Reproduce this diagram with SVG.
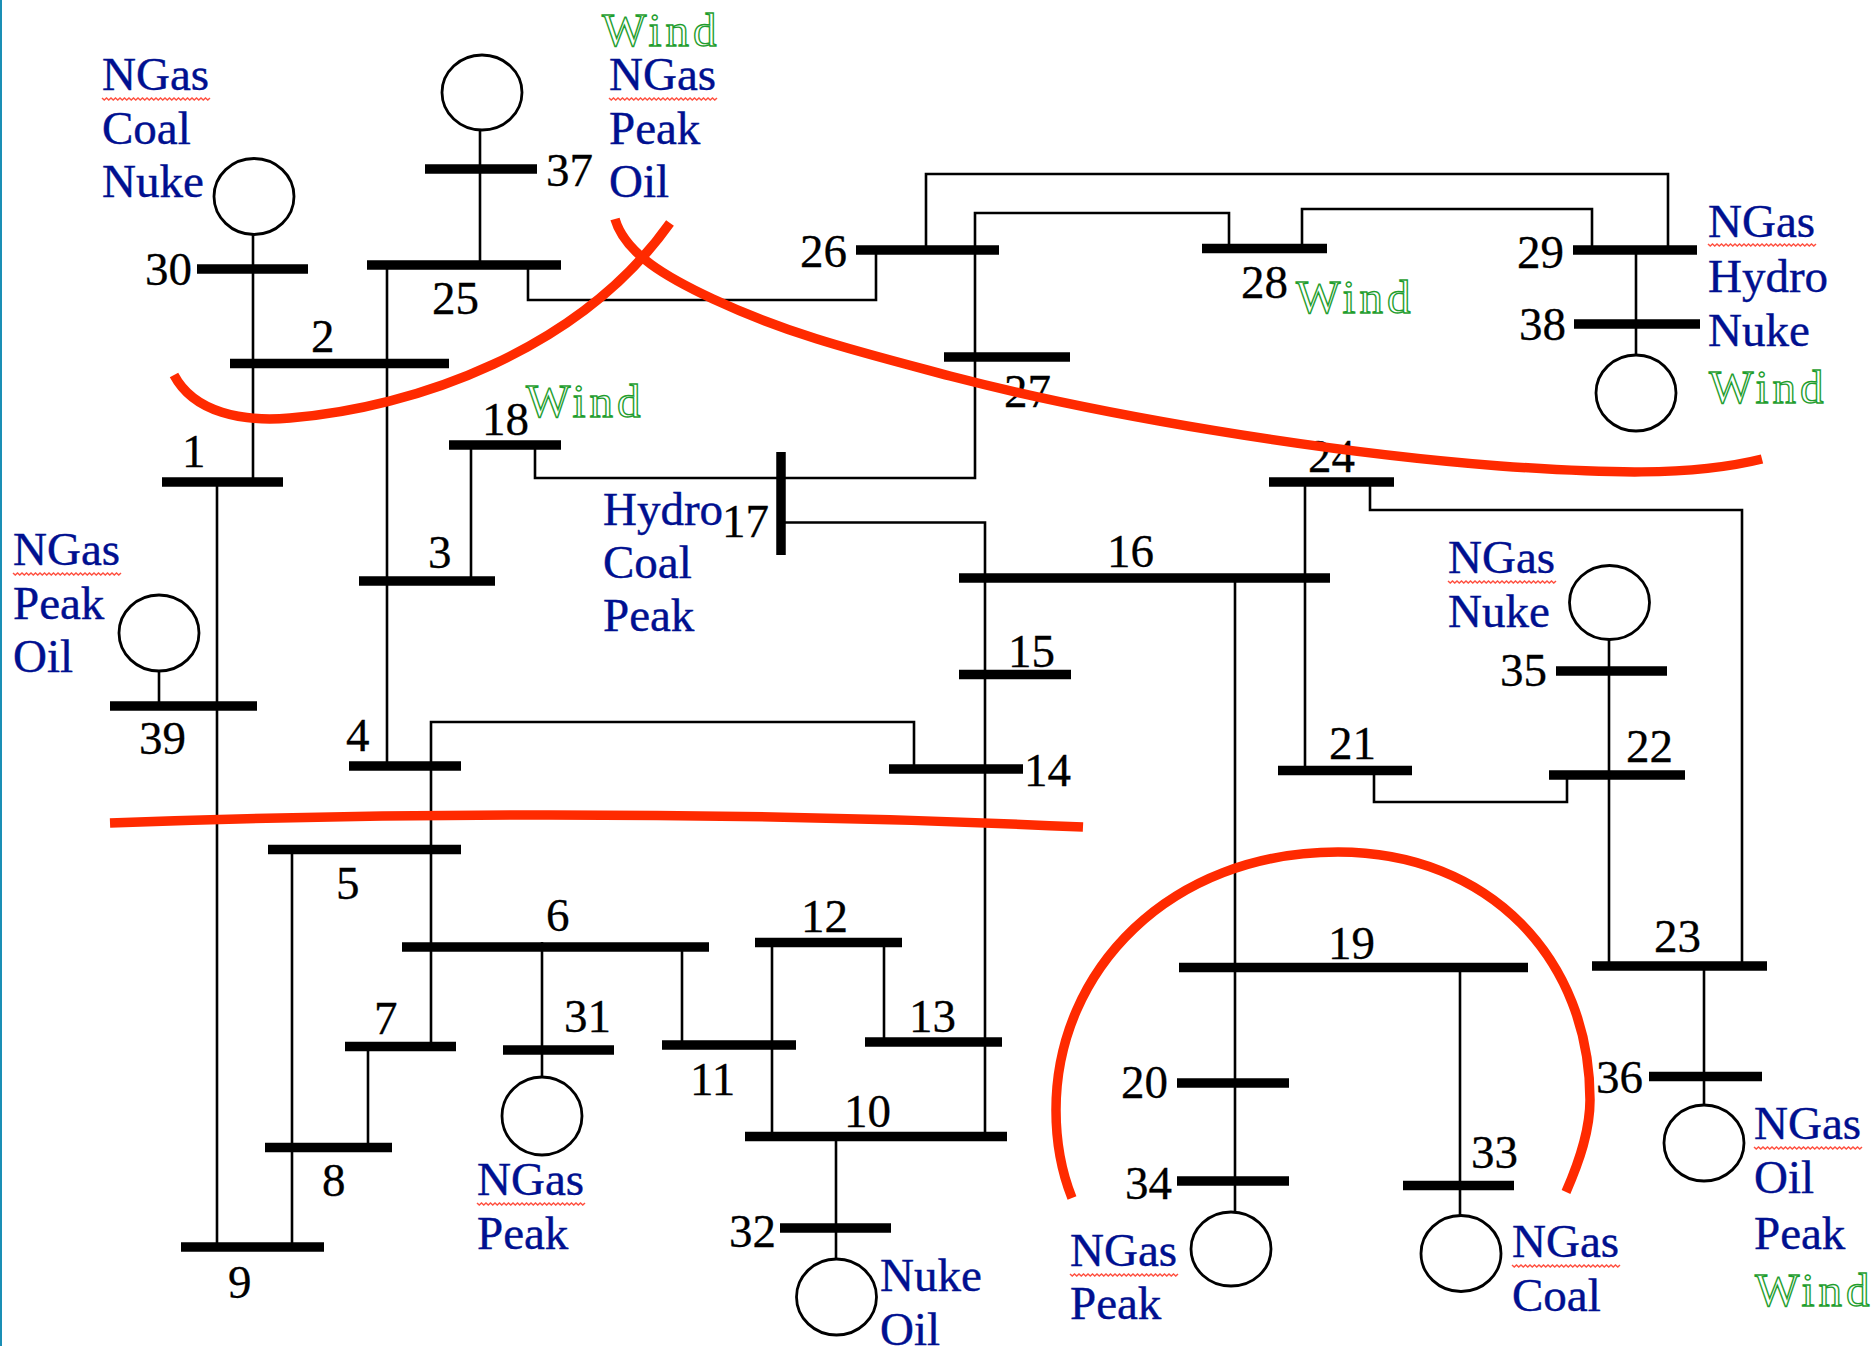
<svg xmlns="http://www.w3.org/2000/svg" width="1873" height="1346" viewBox="0 0 1873 1346">
<style>
text{font-family:"Liberation Serif","Times New Roman",serif;font-size:47px}
.n{fill:#000;stroke:#000;stroke-width:.3}
.f{fill:#001090;stroke:#001090;stroke-width:.4}
.w{fill:#fff;stroke:#1f9e2f;stroke-width:1.4;letter-spacing:4px}
.b{stroke:#000;stroke-width:9.5;fill:none}
.c{stroke:#000;stroke-width:2.6;fill:none}
.g{stroke:#000;stroke-width:2.8;fill:#fff}
.r{stroke:#ff2a00;stroke-width:9.500;fill:none}
.u{stroke:#ff5040;stroke-width:1.5;fill:none}
</style>
<defs>
<path id="wavy" class="u" d="M0 0l2.25 2 2.25-2 2.25 2 2.25-2 2.25 2 2.25-2 2.25 2 2.25-2 2.25 2 2.25-2 2.25 2 2.25-2 2.25 2 2.25-2 2.25 2 2.25-2 2.25 2 2.25-2 2.25 2 2.25-2 2.25 2 2.25-2 2.25 2 2.25-2 2.25 2 2.25-2 2.25 2 2.25-2 2.25 2 2.25-2 2.25 2 2.25-2 2.25 2 2.25-2 2.25 2 2.25-2 2.25 2 2.25-2 2.25 2 2.25-2 2.25 2 2.25-2 2.25 2 2.25-2 2.25 2 2.25-2 2.25 2 2.25-2"/>
</defs>
<rect width="1873" height="1346" fill="#fff"/>
<rect x="0" y="0" width="2" height="1346" fill="#1a8fb5"/>
<g id="connectors">
<path class="c" d="M480 130V265"/>
<path class="c" d="M253 234V482"/>
<path class="c" d="M387 265V766"/>
<path class="c" d="M217 482V1247"/>
<path class="c" d="M528 265V300H876V250"/>
<path class="c" d="M926 250V174H1668V250"/>
<path class="c" d="M535 445V478H975V213H1229V248"/>
<path class="c" d="M1302 248V209H1592V250"/>
<path class="c" d="M1636 250V355"/>
<path class="c" d="M1305 482V770"/>
<path class="c" d="M1370 482V510H1742V966"/>
<path class="c" d="M781 522.500H985V1136"/>
<path class="c" d="M1235 578V1212"/>
<path class="c" d="M471 445V581"/>
<path class="c" d="M159 671V706"/>
<path class="c" d="M431 1046V722H914V769"/>
<path class="c" d="M292 849V1247"/>
<path class="c" d="M542 942V1077"/>
<path class="c" d="M682 947V1045"/>
<path class="c" d="M772 938V1136"/>
<path class="c" d="M884 942V1042"/>
<path class="c" d="M368 1046V1147"/>
<path class="c" d="M836 1136V1259"/>
<path class="c" d="M1609 639V966"/>
<path class="c" d="M1374 770V802H1567V775"/>
<path class="c" d="M1460 967V1215"/>
<path class="c" d="M1704 966V1105"/>
</g>
<g id="bus-1"><line class="b" x1="162" x2="283" y1="482" y2="482"/><text class="n" x="182" y="467">1</text></g>
<g id="bus-2"><line class="b" x1="230" x2="449" y1="363.500" y2="363.500"/><text class="n" x="311" y="352">2</text></g>
<g id="bus-3"><line class="b" x1="359" x2="495" y1="581" y2="581"/><text class="n" x="428" y="568">3</text></g>
<g id="bus-4"><line class="b" x1="349" x2="461" y1="766" y2="766"/><text class="n" x="346" y="751">4</text></g>
<g id="bus-5"><line class="b" x1="268" x2="461" y1="849.500" y2="849.500"/><text class="n" x="336" y="899">5</text></g>
<g id="bus-6"><line class="b" x1="402" x2="709" y1="947" y2="947"/><text class="n" x="546" y="931">6</text></g>
<g id="bus-7"><line class="b" x1="345" x2="456" y1="1046.500" y2="1046.500"/><text class="n" x="374" y="1034">7</text></g>
<g id="bus-8"><line class="b" x1="265" x2="392" y1="1147.500" y2="1147.500"/><text class="n" x="322" y="1196">8</text></g>
<g id="bus-9"><line class="b" x1="181" x2="324" y1="1247" y2="1247"/><text class="n" x="228" y="1298">9</text></g>
<g id="bus-10"><line class="b" x1="745" x2="1007" y1="1136.500" y2="1136.500"/><text class="n" x="844" y="1127">10</text></g>
<g id="bus-11"><line class="b" x1="662" x2="796" y1="1045" y2="1045"/><text class="n" x="690" y="1095">11</text></g>
<g id="bus-12"><line class="b" x1="755" x2="902" y1="942.500" y2="942.500"/><text class="n" x="801" y="932">12</text></g>
<g id="bus-13"><line class="b" x1="865" x2="1002" y1="1042" y2="1042"/><text class="n" x="909" y="1032">13</text></g>
<g id="bus-14"><line class="b" x1="889" x2="1023" y1="769" y2="769"/><text class="n" x="1024" y="786">14</text></g>
<g id="bus-15"><line class="b" x1="959" x2="1071" y1="674.500" y2="674.500"/><text class="n" x="1008" y="667">15</text></g>
<g id="bus-16"><line class="b" x1="959" x2="1330" y1="578" y2="578"/><text class="n" x="1107" y="567">16</text></g>
<g id="bus-17"><line class="b" x1="781" x2="781" y1="452" y2="555"/><text class="n" x="722" y="537">17</text>
<text class="f"><tspan x="603" y="525">Hydro</tspan><tspan x="603" y="578">Coal</tspan><tspan x="603" y="631">Peak</tspan></text></g>
<g id="bus-18"><line class="b" x1="449" x2="561" y1="445" y2="445"/><text class="n" x="482" y="435">18</text><text class="w" x="526" y="417">Wind</text></g>
<g id="bus-19"><line class="b" x1="1179" x2="1528" y1="967.500" y2="967.500"/><text class="n" x="1328" y="959">19</text></g>
<g id="bus-20"><line class="b" x1="1177" x2="1289" y1="1083" y2="1083"/><text class="n" x="1121" y="1098">20</text></g>
<g id="bus-21"><line class="b" x1="1278" x2="1412" y1="770.500" y2="770.500"/><text class="n" x="1329" y="759">21</text></g>
<g id="bus-22"><line class="b" x1="1549" x2="1685" y1="775" y2="775"/><text class="n" x="1626" y="762">22</text></g>
<g id="bus-23"><line class="b" x1="1592" x2="1767" y1="966" y2="966"/><text class="n" x="1654" y="952">23</text></g>
<g id="bus-24"><line class="b" x1="1269" x2="1394" y1="482" y2="482"/><text class="n" x="1308" y="472">24</text></g>
<g id="bus-25"><line class="b" x1="367" x2="561" y1="265" y2="265"/><text class="n" x="432" y="314">25</text></g>
<g id="bus-26"><line class="b" x1="856" x2="999" y1="250" y2="250"/><text class="n" x="800" y="267">26</text></g>
<g id="bus-27"><line class="b" x1="944" x2="1070" y1="357" y2="357"/><text class="n" x="1004" y="407">27</text></g>
<g id="bus-28"><line class="b" x1="1202" x2="1327" y1="248.500" y2="248.500"/><text class="n" x="1241" y="298">28</text><text class="w" x="1296" y="313">Wind</text></g>
<g id="bus-29"><line class="b" x1="1573" x2="1697" y1="250" y2="250"/><text class="n" x="1517" y="268">29</text>
<text class="f"><tspan x="1708" y="237">NGas</tspan><tspan x="1708" y="292">Hydro</tspan><tspan x="1708" y="346">Nuke</tspan></text><use href="#wavy" x="1708" y="244"/><text class="w" x="1709" y="403">Wind</text></g>
<g id="bus-30"><line class="b" x1="197" x2="308" y1="269" y2="269"/><text class="n" x="145" y="285">30</text>
<ellipse class="g" cx="254" cy="196.500" rx="40" ry="38"/>
<text class="f"><tspan x="102" y="90">NGas</tspan><tspan x="102" y="144">Coal</tspan><tspan x="102" y="197">Nuke</tspan></text><use href="#wavy" x="102" y="98"/></g>
<g id="bus-31"><line class="b" x1="503" x2="614" y1="1050" y2="1050"/><text class="n" x="564" y="1032">31</text>
<ellipse class="g" cx="542" cy="1116" rx="40" ry="39"/>
<text class="f"><tspan x="477" y="1195">NGas</tspan><tspan x="477" y="1249">Peak</tspan></text><use href="#wavy" x="477" y="1203"/></g>
<g id="bus-32"><line class="b" x1="780" x2="891" y1="1228" y2="1228"/><text class="n" x="729" y="1247">32</text>
<ellipse class="g" cx="836.500" cy="1297" rx="40" ry="38"/>
<text class="f"><tspan x="880" y="1291">Nuke</tspan><tspan x="880" y="1345">Oil</tspan></text></g>
<g id="bus-33"><line class="b" x1="1403" x2="1514" y1="1185.500" y2="1185.500"/><text class="n" x="1471" y="1168">33</text>
<ellipse class="g" cx="1461" cy="1253.500" rx="40" ry="38"/>
<text class="f"><tspan x="1512" y="1257">NGas</tspan><tspan x="1512" y="1311">Coal</tspan></text><use href="#wavy" x="1512" y="1265"/></g>
<g id="bus-34"><line class="b" x1="1177" x2="1289" y1="1181" y2="1181"/><text class="n" x="1125" y="1199">34</text>
<ellipse class="g" cx="1231" cy="1249" rx="40" ry="37"/>
<text class="f"><tspan x="1070" y="1266">NGas</tspan><tspan x="1070" y="1319">Peak</tspan></text><use href="#wavy" x="1070" y="1274"/></g>
<g id="bus-35"><line class="b" x1="1556" x2="1667" y1="671" y2="671"/><text class="n" x="1500" y="686">35</text>
<ellipse class="g" cx="1609.500" cy="602.500" rx="40" ry="37"/>
<text class="f"><tspan x="1448" y="573">NGas</tspan><tspan x="1448" y="627">Nuke</tspan></text><use href="#wavy" x="1448" y="581"/></g>
<g id="bus-36"><line class="b" x1="1649" x2="1762" y1="1076.500" y2="1076.500"/><text class="n" x="1596" y="1093">36</text>
<ellipse class="g" cx="1704" cy="1143" rx="40" ry="38"/>
<text class="f"><tspan x="1754" y="1139">NGas</tspan><tspan x="1754" y="1193">Oil</tspan><tspan x="1754" y="1249">Peak</tspan></text><use href="#wavy" x="1754" y="1147"/><text class="w" x="1755" y="1306">Wind</text></g>
<g id="bus-37"><line class="b" x1="425" x2="537" y1="169" y2="169"/><text class="n" x="546" y="186">37</text>
<ellipse class="g" cx="482" cy="92.500" rx="40" ry="37.500"/>
<text class="w" x="602" y="46">Wind</text>
<text class="f"><tspan x="609" y="90">NGas</tspan><tspan x="609" y="144">Peak</tspan><tspan x="609" y="197">Oil</tspan></text><use href="#wavy" x="609" y="98"/></g>
<g id="bus-38"><line class="b" x1="1574" x2="1700" y1="324" y2="324"/><text class="n" x="1519" y="340">38</text>
<ellipse class="g" cx="1636" cy="393" rx="40" ry="38"/></g>
<g id="bus-39"><line class="b" x1="110" x2="257" y1="706" y2="706"/><text class="n" x="139" y="754">39</text>
<ellipse class="g" cx="159" cy="633" rx="40" ry="38"/>
<text class="f"><tspan x="13" y="565">NGas</tspan><tspan x="13" y="619">Peak</tspan><tspan x="13" y="672">Oil</tspan></text><use href="#wavy" x="13" y="573"/></g>
<g id="red-curves">
<path class="r" d="M174 375C194 413 243 422 290 418C415 408 580 350 670 223"/>
<path class="r" d="M615 219C625 254 668 278 713 299C790 335 860 352 950 376C1100 415 1320 452 1500 466C1600 473 1690 477 1762 459"/>
<path class="r" d="M110 823Q600 805 1083 827"/>
<path class="r" d="M1072 1198C1060 1168 1056 1140 1056 1110C1056 970 1170 852 1338 852C1490 852 1590 960 1590 1100C1590 1130 1580 1160 1566 1192"/>
</g>
</svg>
